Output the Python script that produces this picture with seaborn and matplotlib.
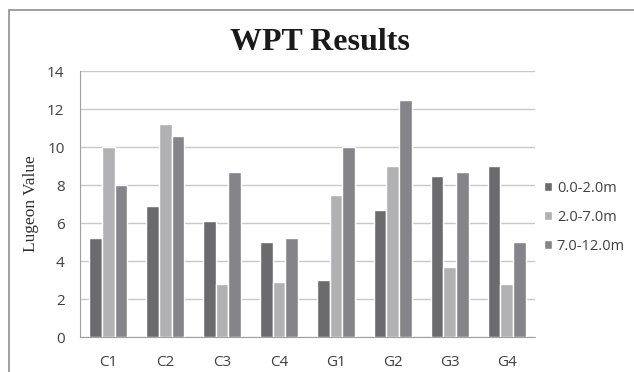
import numpy as np
import pandas as pd
import matplotlib
matplotlib.use("Agg")
import matplotlib.pyplot as plt
import seaborn as sns
from matplotlib.patches import Rectangle

sites = ["C1", "C2", "C3", "C4", "G1", "G2", "G3", "G4"]
depths = ["0.0-2.0m", "2.0-7.0m", "7.0-12.0m"]
v_shallow = [5.2, 6.9, 6.1, 5.0, 3.0, 6.7, 8.5, 9.0]
v_middle = [10.0, 11.2, 2.8, 2.9, 7.5, 9.0, 3.7, 2.8]
v_deep = [8.0, 10.6, 8.7, 5.2, 10.0, 12.5, 8.7, 5.0]
colors = ["#6b6b6d", "#b1b1b4", "#858589"]

df = pd.DataFrame({
    "site": sites * 3,
    "depth": [d for d in depths for _ in sites],
    "value": v_shallow + v_middle + v_deep,
})

sns.set_style("white")
fig = plt.figure(figsize=(6.34, 3.72), dpi=100)
ax = fig.add_axes([0.126, 0.094, 0.718, 0.715])

sns.barplot(data=df, x="site", y="value", hue="depth", palette=colors,
            width=0.67, saturation=1, ax=ax, zorder=3, legend=True)

ax.set_ylim(0, 14)
ax.set_yticks(np.arange(0, 15, 2))
ax.yaxis.grid(True, color="#c8c8c8", lw=1, zorder=0)
ax.set_axisbelow(True)
for s in ["top", "right"]:
    ax.spines[s].set_visible(False)
ax.spines["left"].set_color("#a0a0a0")
ax.spines["bottom"].set_color("#a0a0a0")
ax.tick_params(axis="both", length=0, labelsize=11, labelcolor="#404040")
ax.tick_params(axis="x", pad=13)
ax.tick_params(axis="y", pad=11)
for t in ax.get_xticklabels() + ax.get_yticklabels():
    t.set_family("Open Sans")
ax.set_xlabel("")
ax.set_ylabel("Lugeon Value", family="Liberation Serif", fontsize=12.5,
              color="#303030", labelpad=6)

fig.text(0.505, 0.885, "WPT Results", family="Liberation Serif",
         fontweight="bold", fontsize=23, ha="center", va="center",
         color="#1a1a1a")

leg = ax.legend(loc="center left", bbox_to_anchor=(0.99, 0.45), frameon=False,
                handlelength=0.6, handleheight=0.6, handletextpad=0.3,
                labelspacing=0.95, prop={"family": "Open Sans", "size": 10.5})
for t in leg.get_texts():
    t.set_color("#404040")

fig.patches.append(Rectangle((9 / 634, -0.1), 1.0, 1 - 10 / 372 + 0.1,
                             transform=fig.transFigure, fill=False,
                             edgecolor="#909090", lw=1.2))

fig.savefig("out.png", dpi=100)
